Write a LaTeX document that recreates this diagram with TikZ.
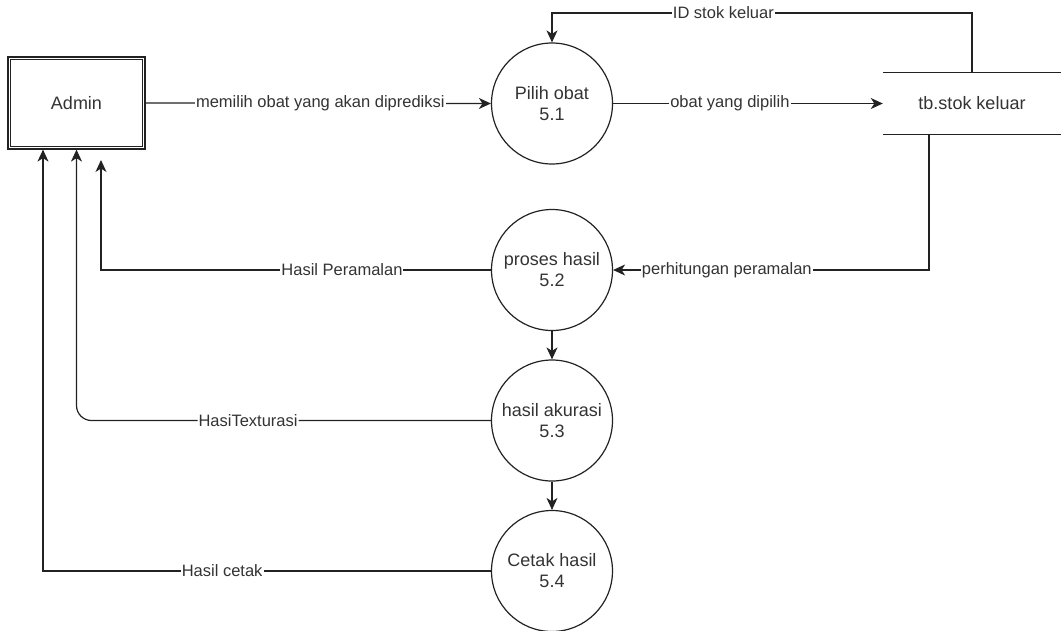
\documentclass[tikz,border=0pt]{standalone}
\usepackage{fontspec}
\setmainfont{Liberation Sans}
\usetikzlibrary{arrows.meta}
\definecolor{ink}{HTML}{222222}
\definecolor{txt}{HTML}{333333}
\tikzset{
  flow/.style={draw=ink, line width=1.2pt, -{Stealth[length=12pt,width=11pt,inset=3.5pt]}},
  proc/.style={circle, draw=ink, line width=1.2pt, minimum size=121pt, inner sep=0pt,
    align=center, text=txt, font=\fontsize{18}{21}\selectfont},
  entity/.style={rectangle, draw=ink, line width=1.2pt, minimum width=137pt, minimum height=92pt,
    text=txt, font=\fontsize{18}{21}\selectfont},
  datastore/.style={rectangle, minimum width=178pt, minimum height=61pt, inner sep=0pt,
    text=txt, font=\fontsize{18}{21}\selectfont},
  lbl/.style={fill=white, inner sep=1pt, text=txt, font=\fontsize{16.5}{19}\selectfont}
}
\begin{document}
\begin{tikzpicture}[x=1pt, y=-1pt]
\useasboundingbox (0,0) rectangle (1061,630);

% external entity (double border)
\node[entity] (admin) at (76.5,103) {Admin};
\draw[ink, line width=1.2pt] ([shift={(3,3)}]admin.north west) rectangle ([shift={(-3,-3)}]admin.south east);

% processes
\node[proc] (p1) at (552,103.5) {Pilih obat\\5.1};
\node[proc] (p2) at (552,270) {proses hasil\\5.2};
\node[proc] (p3) at (552,420.5) {hasil akurasi\\5.3};
\node[proc] (p4) at (552,571) {Cetak hasil\\5.4};

% data store
\node[datastore] (store) at (972,103.5) {tb.stok keluar};
\draw[ink, line width=1.2pt] (store.north west) -- (store.north east);
\draw[ink, line width=1.2pt] (store.south west) -- (store.south east);

% bend points and free ends
\coordinate (idtop) at (552,13);
\coordinate (hpend) at (101,160);

% data flows
\draw[flow] (admin.east) -- node[lbl, pos=0.506] {memilih obat yang akan diprediksi} (p1.west);
\draw[flow] (p1.east) -- node[lbl, pos=0.433] {obat yang dipilih} (store.west);
\draw[flow] (store.north) |- node[lbl, pos=0.796] {ID stok keluar} (idtop) -- (p1.north);
\draw[flow] ([xshift=-43pt]store.south) |- node[lbl, pos=0.82] {perhitungan peramalan} (p2.east);
\draw[flow] (p2.west) -| node[lbl, pos=0.191] {Hasil Peramalan} (hpend);
\draw[flow, rounded corners=15pt] (p3.west) -| node[lbl, pos=0.293] {HasiTexturasi} (admin.south);
\draw[flow] (p4.west) -| node[lbl, pos=0.3] {Hasil cetak} ([xshift=-33.5pt]admin.south);
\draw[flow] (p2.south) -- (p3.north);
\draw[flow] (p3.south) -- (p4.north);
\end{tikzpicture}
\end{document}
